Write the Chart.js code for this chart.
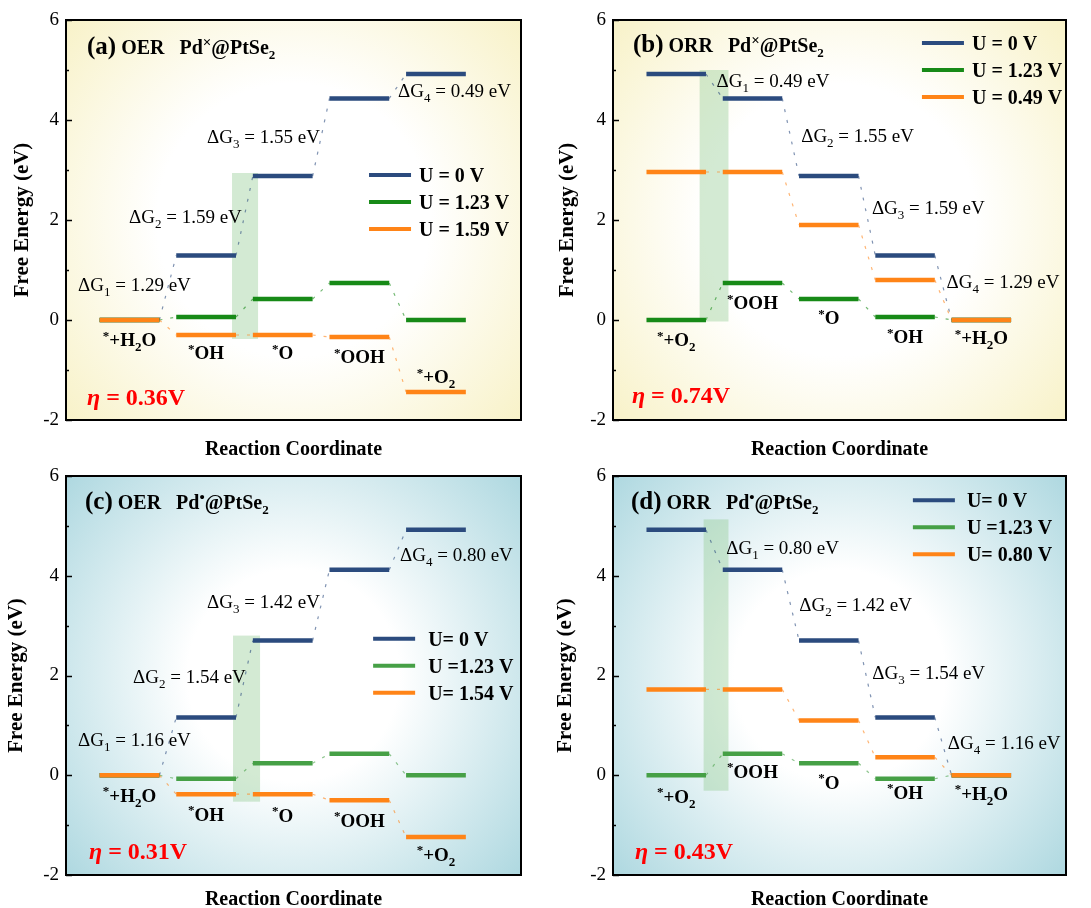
<!DOCTYPE html>
<html>
<head>
<meta charset="utf-8">
<script src="https://cdn.jsdelivr.net/npm/chart.js@4.4.1/dist/chart.umd.min.js"></script>
<style>
  html, body { margin: 0; padding: 0; background: #fff; overflow: hidden; }
  #wrap { position: relative; width: 1091px; height: 908px; }
  canvas { position: absolute; }
</style>
</head>
<body>
<div id="wrap">
  <canvas id="pa" width="545" height="460" style="left:0;top:0"></canvas>
  <canvas id="pb" width="546" height="460" style="left:545px;top:0"></canvas>
  <canvas id="pc" width="545" height="455" style="left:0;top:455px"></canvas>
  <canvas id="pd" width="546" height="455" style="left:545px;top:455px"></canvas>
</div>
<script>
// ---- reaction steps (^ = superscript next char, _ = subscript next char) ----
const oerSteps = ['^*+H_2O', '^*OH', '^*O', '^*OOH', '^*+O_2'];
const orrSteps = ['^*+O_2', '^*OOH', '^*O', '^*OH', '^*+H_2O'];

// ---- free energies (eV), Pd×@PtSe2 ----
const oerX_U0   = [0, 1.29, 2.88, 4.43, 4.92];
const oerX_U123 = [0, 0.06, 0.42, 0.74, 0];
const oerX_U159 = [0, -0.30, -0.30, -0.34, -1.44];
const orrX_U0   = [4.92, 4.43, 2.88, 1.29, 0];
const orrX_U123 = [0, 0.74, 0.42, 0.06, 0];
const orrX_U049 = [2.96, 2.96, 1.90, 0.80, 0];

// ---- free energies (eV), Pd•@PtSe2 ----
const oerD_U0   = [0, 1.16, 2.70, 4.12, 4.92];
const oerD_U123 = [0, -0.07, 0.24, 0.43, 0];
const oerD_U154 = [0, -0.38, -0.38, -0.50, -1.24];
const orrD_U0   = [4.92, 4.12, 2.70, 1.16, 0];
const orrD_U123 = [0, 0.43, 0.24, -0.07, 0];
const orrD_U080 = [1.72, 1.72, 1.10, 0.36, 0];

// ---- legend labels ----
const legendA = ['U = 0 V', 'U = 1.23 V', 'U = 1.59 V'];
const legendB = ['U = 0 V', 'U = 1.23 V', 'U = 0.49 V'];
const legendC = ['U= 0 V', 'U =1.23 V', 'U= 1.54 V'];
const legendD = ['U= 0 V', 'U =1.23 V', 'U= 0.80 V'];

// ---- overpotentials ----
const etaA = '0.36', etaB = '0.74', etaC = '0.31', etaD = '0.43';

// ---- potential-determining step windows: [x0, x1] and [y0, y1] ----
const bandA = [[2.338, 2.678], [-0.38, 2.94]];
const bandB = [[1.307, 1.685], [-0.03, 5.00]];
const bandC = [[2.351, 2.704], [-0.53, 2.80]];
const bandD = [[1.359, 1.685], [-0.31, 5.13]];

// ---- axis ticks ----
const yTicks = [-2, 0, 2, 4, 6];

const FONT = '"Liberation Serif","Times New Roman",serif';
const X_MIN = 0.171, X_MAX = 6.11, HALF = 0.39;
const BLUE = '#2B4B7E';
const GREEN1 = '#178A17', GREEN2 = '#46A046';
const ORANGE = '#FF8417';

function fade(hex, a) {
  const n = parseInt(hex.slice(1), 16);
  return `rgba(${(n >> 16) & 255},${(n >> 8) & 255},${n & 255},${a})`;
}

function parseRich(str) {
  const out = []; let buf = '';
  for (let i = 0; i < str.length; i++) {
    const c = str[i];
    if ((c === '^' || c === '_') && i + 1 < str.length) {
      if (buf) { out.push({ t: buf }); buf = ''; }
      out.push({ t: str[i + 1], shift: c === '^' ? 'sup' : 'sub' });
      i++;
    } else buf += c;
  }
  if (buf) out.push({ t: buf });
  return out;
}

// draws a run of text pieces; y is the visual centre of the capitals
function drawRich(ctx, parts, x, y, opt) {
  const size = opt.size;
  const fontFor = p => {
    const s = p.shift ? Math.round((p.size || size) * 0.66) : (p.size || size);
    const it = (p.italic !== undefined ? p.italic : opt.italic) ? 'italic ' : '';
    const bd = (p.bold !== undefined ? p.bold : opt.bold) ? 'bold ' : '';
    return `${it}${bd}${s}px ${FONT}`;
  };
  let w = 0;
  const widths = parts.map(p => { ctx.font = fontFor(p); const m = ctx.measureText(p.t).width; w += m; return m; });
  let cx = opt.align === 'center' ? x - w / 2 : x;
  const base = y + size * 0.34;
  ctx.save();
  ctx.textAlign = 'left';
  ctx.textBaseline = 'alphabetic';
  ctx.fillStyle = opt.color || '#000';
  parts.forEach((p, i) => {
    ctx.font = fontFor(p);
    let dy = 0;
    if (p.shift === 'sup') dy = -size * 0.36;
    if (p.shift === 'sub') dy = size * 0.26;
    ctx.fillText(p.t, cx, base + dy);
    cx += widths[i];
  });
  ctx.restore();
}

function buildDatasets(series, colors) {
  const ds = [];
  series.forEach((vals, k) => {
    const lv = [], cn = [];
    vals.forEach((v, i) => {
      const c = i + 1;
      lv.push({ x: c - HALF, y: v }, { x: c + HALF, y: v }, { x: c + 0.5, y: null });
      if (i < vals.length - 1) {
        cn.push({ x: c + HALF, y: v }, { x: c + 1 - HALF, y: vals[i + 1] }, { x: c + 1, y: null });
      }
    });
    ds.push({ data: lv, borderColor: colors[k], borderWidth: 4.5, order: 10 - k,
              borderCapStyle: 'butt', pointRadius: 0, spanGaps: false, fill: false, tension: 0 });
    ds.push({ data: cn, borderColor: fade(colors[k], 0.6), borderWidth: 1.2, borderDash: [3, 8], order: 20 - k,
              pointRadius: 0, spanGaps: false, fill: false, tension: 0 });
  });
  return ds;
}

function makePanel(id, p) {
  const decor = {
    id: 'decor',
    beforeDraw(chart) {
      const { ctx, chartArea: a } = chart;
      const cx = (a.left + a.right) / 2, cy = (a.top + a.bottom) / 2;
      const R = Math.hypot(a.width, a.height) / 2;
      const g = ctx.createRadialGradient(cx, cy, 0, cx, cy, R);
      p.bg.forEach(([s, c]) => g.addColorStop(s, c));
      ctx.save();
      ctx.fillStyle = g;
      ctx.fillRect(a.left, a.top, a.width, a.height);
      ctx.restore();
    },
    beforeDatasetsDraw(chart) {
      const { ctx, scales: { x, y } } = chart;
      const [bx, by] = p.band;
      const x0 = x.getPixelForValue(bx[0]), x1 = x.getPixelForValue(bx[1]);
      const y0 = y.getPixelForValue(by[1]), y1 = y.getPixelForValue(by[0]);
      ctx.save();
      ctx.fillStyle = 'rgba(150,205,150,0.42)';
      ctx.fillRect(x0, y0, x1 - x0, y1 - y0);
      ctx.restore();
    },
    afterDatasetsDraw(chart) {
      const { ctx, chartArea: a, scales: { x, y } } = chart;
      // panel title
      drawRich(ctx, p.title, x.getPixelForValue(p.titlePos[0]), y.getPixelForValue(p.titlePos[1]), { size: 20, bold: true });
      // free-energy steps
      const ref = p.series[0];
      p.dGPos.forEach((pos, i) => {
        const dg = Math.abs(ref[i + 1] - ref[i]).toFixed(2);
        drawRich(ctx, parseRich(`ΔG_${i + 1} = ${dg} eV`), x.getPixelForValue(pos[0]), y.getPixelForValue(pos[1]), { size: 19 });
      });
      // intermediates
      p.steps.forEach((s, i) => {
        drawRich(ctx, parseRich(s), x.getPixelForValue(i + 1), y.getPixelForValue(p.catY[i]), { size: 19, bold: true, align: 'center' });
      });
      // overpotential
      drawRich(ctx, [{ t: 'η', italic: true }, { t: ` = ${p.eta}V` }],
        x.getPixelForValue(p.etaPos[0]), y.getPixelForValue(p.etaPos[1]), { size: 24, bold: true, color: '#FF0000' });
      // legend
      const lx = a.left + p.legend.x * a.width, ly = a.top + p.legend.y * a.height;
      p.legendText.forEach((t, k) => {
        const yy = ly + k * 27;
        ctx.save();
        ctx.strokeStyle = p.colors[k];
        ctx.lineWidth = 4;
        ctx.beginPath(); ctx.moveTo(lx, yy); ctx.lineTo(lx + 42, yy); ctx.stroke();
        ctx.restore();
        drawRich(ctx, [{ t: t }], lx + p.legend.gap, yy, { size: 20, bold: true });
      });
    },
    afterDraw(chart) {
      const { ctx, chartArea: a, scales: { y } } = chart;
      ctx.save();
      ctx.strokeStyle = '#000';
      ctx.lineWidth = 2;
      ctx.strokeRect(a.left, a.top, a.width, a.height);
      ctx.lineWidth = 1.5;
      for (let v = -2; v <= 6; v++) {
        const py = Math.round(y.getPixelForValue(v)) + 0.5;
        const len = v % 2 === 0 ? 6 : 3;
        ctx.beginPath(); ctx.moveTo(a.left, py); ctx.lineTo(a.left + len, py); ctx.stroke();
      }
      ctx.restore();
    }
  };

  return new Chart(document.getElementById(id), {
    type: 'line',
    data: { datasets: buildDatasets(p.series, p.colors) },
    options: {
      responsive: false,
      animation: false,
      events: [],
      layout: { padding: { top: p.padTop, left: 0, right: p.padRight, bottom: 0 } },
      plugins: { legend: { display: false }, tooltip: { enabled: false } },
      scales: {
        x: {
          type: 'linear', min: X_MIN, max: X_MAX,
          ticks: { display: false },
          grid: { display: false, drawTicks: false },
          border: { display: false },
          title: { display: true, text: 'Reaction Coordinate', color: '#000',
                   font: { family: FONT, size: 20, weight: 'bold', lineHeight: 1 }, padding: { top: 0, bottom: 0 } },
          afterFit: s => { s.height = p.xAxisH; }
        },
        y: {
          type: 'linear', min: -2, max: 6,
          afterBuildTicks: s => { s.ticks = yTicks.map(v => ({ value: v })); },
          ticks: { color: '#000', font: { family: FONT, size: 19 }, padding: 7 },
          grid: { display: false, drawTicks: false },
          border: { display: false },
          title: { display: true, text: 'Free Energy (eV)', color: '#000',
                   font: { family: FONT, size: 21, weight: 'bold', lineHeight: 1 }, padding: { top: p.yTitlePad, bottom: 0 } },
          afterFit: s => { s.width = p.yAxisW; }
        }
      }
    },
    plugins: [decor]
  });
}

const yellowBg = [[0, '#ffffff'], [0.45, '#ffffff'], [1, '#F8F2C8']];
const tealBg = [[0, '#ffffff'], [0.35, '#ffffff'], [1, '#AED8E0']];

function titleParts(tag, rxn, mark) {
  return [{ t: `(${tag})`, size: 25 }, { t: ` ${rxn}` }, { t: '   Pd' }, { t: mark, shift: 'sup', size: 22 },
          { t: '@PtSe' }, { t: '2', shift: 'sub' }];
}

makePanel('pa', {
  series: [oerX_U0, oerX_U123, oerX_U159], colors: [BLUE, GREEN1, ORANGE], steps: oerSteps,
  legendText: legendA, eta: etaA, band: bandA, bg: yellowBg,
  title: titleParts('a', 'OER', '×'), titlePos: [0.445, 5.46],
  dGPos: [[0.328, 0.70], [0.993, 2.06], [2.012, 3.66], [4.505, 4.58]],
  catY: [-0.40, -0.66, -0.66, -0.74, -1.14],
  etaPos: [0.445, -1.54], legend: { x: 0.666, y: 0.3875, gap: 50 },
  padTop: 20, padRight: 24, xAxisH: 40, yAxisW: 66, yTitlePad: 12.5
});

makePanel('pb', {
  series: [orrX_U0, orrX_U123, orrX_U049], colors: [BLUE, GREEN1, ORANGE], steps: orrSteps,
  legendText: legendB, eta: etaB, band: bandB, bg: yellowBg,
  title: titleParts('b', 'ORR', '×'), titlePos: [0.432, 5.5],
  dGPos: [[1.529, 4.78], [2.638, 3.68], [3.565, 2.24], [4.544, 0.76]],
  catY: [-0.40, 0.34, 0.04, -0.34, -0.36],
  etaPos: [0.419, -1.5], legend: { x: 0.682, y: 0.0575, gap: 50 },
  padTop: 20, padRight: 25, xAxisH: 40, yAxisW: 68, yTitlePad: 12.5
});

makePanel('pc', {
  series: [oerD_U0, oerD_U123, oerD_U154], colors: [BLUE, GREEN2, ORANGE], steps: oerSteps,
  legendText: legendC, eta: etaC, band: bandC, bg: tealBg,
  title: titleParts('c', 'OER', '•'), titlePos: [0.419, 5.48],
  dGPos: [[0.328, 0.71], [1.046, 1.98], [2.012, 3.49], [4.531, 4.43]],
  catY: [-0.40, -0.79, -0.80, -0.90, -1.59],
  etaPos: [0.471, -1.51], legend: { x: 0.675, y: 0.408, gap: 55 },
  padTop: 21, padRight: 24, xAxisH: 35, yAxisW: 66, yTitlePad: 6.5
});

makePanel('pd', {
  series: [orrD_U0, orrD_U123, orrD_U080], colors: [BLUE, GREEN2, ORANGE], steps: orrSteps,
  legendText: legendD, eta: etaD, band: bandD, bg: tealBg,
  title: titleParts('d', 'ORR', '•'), titlePos: [0.406, 5.48],
  dGPos: [[1.655, 4.56], [2.612, 3.43], [3.57, 2.05], [4.56, 0.65]],
  catY: [-0.42, 0.08, -0.15, -0.35, -0.37],
  etaPos: [0.458, -1.52], legend: { x: 0.662, y: 0.061, gap: 54 },
  padTop: 21, padRight: 25, xAxisH: 35, yAxisW: 68, yTitlePad: 10.5
});
</script>
</body>
</html>
